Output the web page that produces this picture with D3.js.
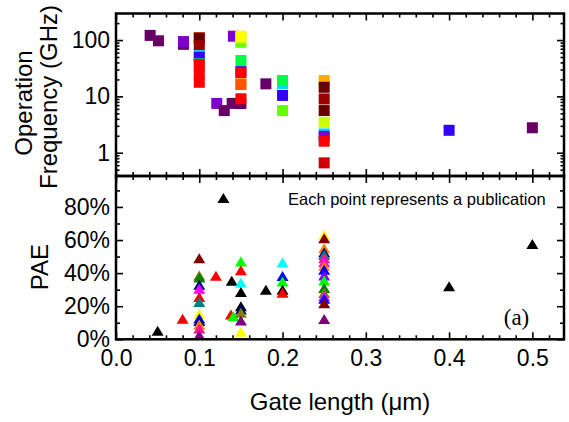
<!DOCTYPE html>
<html><head><meta charset="utf-8">
<script src="https://cdn.jsdelivr.net/npm/d3@7"></script>
<style>body{margin:0;background:#fff} svg{display:block}</style>
</head><body>
<svg id="c" width="569" height="422"></svg>
<script>
// ---------- data ----------
const freqGate = [0.041,0.051,0.081,0.081,0.1,0.1,0.1,0.1,0.1,0.1,0.1,0.1,0.1,0.121,0.130,0.1395,0.141,0.15,0.15,0.15,0.15,0.15,0.15,0.15,0.15,0.15,0.15,0.18,0.2,0.2,0.2,0.2,0.25,0.25,0.25,0.25,0.25,0.25,0.25,0.25,0.25,0.4,0.5];
const freqGHz  = [121,97,84,94,111,108,80,53,49.5,37.8,36.7,25,17.8,7.5,5.6,7.5,117,91.4,109,117,43.3,27.5,26.1,16.7,16.2,7.45,9.06,16.7,16.9,19.1,10.4,5.6,19.1,14.5,9.0,5.6,3.47,2.16,1.96,1.6,0.66,2.5,2.77];
const freqColor = ["#660066","#660066","#660066","#7f00cc","#ff5500","#660000","#990000","#00ddff","#3300ff","#00ff44","#ff0000","#ff0000","#ff0000","#7f00cc","#660066","#660066","#7f00cc","#66ff00","#ccff00","#ffff00","#00ff44","#3300ff","#ff0000","#ffaa00","#ff5500","#660066","#ff0000","#660066","#00ddff","#00ff44","#3300ff","#66ff00","#ffaa00","#660000","#990000","#660000","#ccff00","#00ddff","#7f00cc","#ff0000","#cc0000","#3300ff","#660066"];

const paeGate = [0.05,0.08,
  0.1,0.1,0.1,0.1,0.1,0.1,0.1,0.1,0.1,0.1,0.1,0.1,0.1,
  0.12,0.129,0.139,0.138,0.141,
  0.15,0.15,0.15,0.15,0.15,0.15,0.15,0.15,0.15,
  0.18,
  0.2,0.2,0.2,0.2,0.2,
  0.25,0.25,0.25,0.25,0.25,0.25,0.25,0.25,0.25,0.25,0.25,0.25,0.25,0.25,0.25,0.25,0.25,
  0.4,0.5];
const paePct = [5.2,12.4,
  49,38.5,37.4,33,30.5,25.5,22.6,15.4,12.5,11,9,6.6,2.6,
  38.4,85.4,35.4,15,14,
  47,41.8,34.4,28.6,20,18,16,11.4,4.6,
  30,
  46.4,38.2,35,30,28.2,
  63,61,55,52.5,51,49,46.5,44.5,42,38.6,35.5,31,28,26,24.5,21.8,12.2,
  32,57.6];
const paeColor = ["#000000","#ff0000",
  "#800000","#808000","#008000","#000080","#ff00ff","#ff0000","#008080","#ffff00","#0000ff","#000080","#ff8000","#ff1493","#800080",
  "#ff0000","#000000","#000000","#ff0000","#00ff00",
  "#00ff00","#ff0000","#00ffff","#000000","#000000","#000080","#808000","#800080","#ffff00",
  "#000000",
  "#00ffff","#0000ff","#00ff00","#000000","#ff0000",
  "#ffff00","#800000","#ff8000","#000080","#008080","#ff1493","#ff00ff","#ff8000","#0000ff","#8000ff","#00ff00","#008000","#808000","#ff00ff","#0000ff","#800000","#800080",
  "#000000","#000000"];

const gateTicks = [0,0.1,0.2,0.3,0.4,0.5];
const gateTickLabels = ["0.0","0.1","0.2","0.3","0.4","0.5"];
const freqTicks = [1,10,100];
const freqTickLabels = ["1","10","100"];
const paeTicks = [0,20,40,60,80];
const paeTickLabels = ["0%","20%","40%","60%","80%"];

// ---------- layout ----------
const L = 116, R = 564, T = 13.5, M = 176, B = 339.3;
const FONT = "'Liberation Sans', Arial, Helvetica, sans-serif";
const svg = d3.select("#c");

const x = d3.scaleLinear().domain([0, 0.538]).range([L, R]);
const yF = d3.scaleLog().domain([0.386, 296]).range([M, T]);
const yP = d3.scaleLinear().domain([0, 98.7]).range([B, M]);

const gateMinor = d3.range(0, 0.54, 0.02).filter(v => Math.abs(v*10 - Math.round(v*10)) > 1e-6);
const freqMinor = [];
[0.1,1,10,100].forEach(d => { for (let k=2;k<=9;k++){ const v=d*k; if (v>0.386 && v<296) freqMinor.push(v);} });
const paeMinor = [10,30,50,70,90];

function styleAxis(g){
  g.select(".domain").remove();
  g.selectAll(".tick line").attr("stroke","#000").attr("stroke-width",1.6);
  g.selectAll(".tick text").attr("font-family",FONT).attr("font-size",23).attr("fill","#000");
}

// bottom edge of bottom panel (ticks point up, labels below)
svg.append("g").attr("transform",`translate(0,${B})`)
  .call(d3.axisBottom(x).tickValues(gateMinor).tickSize(-4).tickFormat("")).call(styleAxis);
svg.append("g").attr("transform",`translate(0,${B})`)
  .call(d3.axisBottom(x).tickValues(gateTicks).tickSize(-7).tickPadding(10).tickFormat((d,i)=>gateTickLabels[i])).call(styleAxis);
// middle line: ticks up into top panel, and down into bottom panel
[-1, 1].forEach(s => {
  svg.append("g").attr("transform",`translate(0,${M})`)
    .call(d3.axisBottom(x).tickValues(gateMinor).tickSize(4*s).tickFormat("")).call(styleAxis);
  svg.append("g").attr("transform",`translate(0,${M})`)
    .call(d3.axisBottom(x).tickValues(gateTicks).tickSize(7*s).tickFormat("")).call(styleAxis);
});
// top edge
svg.append("g").attr("transform",`translate(0,${T})`)
  .call(d3.axisBottom(x).tickValues(gateMinor).tickSize(4).tickFormat("")).call(styleAxis);
svg.append("g").attr("transform",`translate(0,${T})`)
  .call(d3.axisBottom(x).tickValues(gateTicks).tickSize(7).tickFormat("")).call(styleAxis);

// top panel y axes
svg.append("g").attr("transform",`translate(${L},0)`)
  .call(d3.axisLeft(yF).tickValues(freqMinor).tickSize(-3.5).tickFormat("")).call(styleAxis);
svg.append("g").attr("transform",`translate(${L},0)`)
  .call(d3.axisLeft(yF).tickValues(freqTicks).tickSize(-7).tickPadding(6).tickFormat((d,i)=>freqTickLabels[i])).call(styleAxis);
svg.append("g").attr("transform",`translate(${R},0)`)
  .call(d3.axisRight(yF).tickValues(freqMinor).tickSize(-3.5).tickFormat("")).call(styleAxis);
svg.append("g").attr("transform",`translate(${R},0)`)
  .call(d3.axisRight(yF).tickValues(freqTicks).tickSize(-7).tickFormat("")).call(styleAxis);

// bottom panel y axes
svg.append("g").attr("transform",`translate(${L},0)`)
  .call(d3.axisLeft(yP).tickValues(paeMinor).tickSize(-4).tickFormat("")).call(styleAxis);
svg.append("g").attr("transform",`translate(${L},0)`)
  .call(d3.axisLeft(yP).tickValues(paeTicks).tickSize(-7).tickPadding(6).tickFormat((d,i)=>paeTickLabels[i])).call(styleAxis);
svg.append("g").attr("transform",`translate(${R},0)`)
  .call(d3.axisRight(yP).tickValues(paeMinor).tickSize(-4).tickFormat("")).call(styleAxis);
svg.append("g").attr("transform",`translate(${R},0)`)
  .call(d3.axisRight(yP).tickValues(paeTicks).tickSize(-7).tickFormat("")).call(styleAxis);

// ---------- marks ----------
const SQ = 11;
svg.append("g").selectAll("rect").data(freqGate).join("rect")
  .attr("x", d => x(d) - SQ/2)
  .attr("y", (d,i) => yF(freqGHz[i]) - SQ/2)
  .attr("width", SQ).attr("height", SQ)
  .attr("fill", (d,i) => freqColor[i]);

svg.append("g").selectAll("path").data(paeGate).join("path")
  .attr("d", "M0,-5L6,5L-6,5Z")
  .attr("transform", (d,i) => `translate(${x(d)},${yP(paePct[i])})`)
  .attr("fill", (d,i) => paeColor[i]);

// ---------- frames ----------
svg.append("rect").attr("x",L).attr("y",T).attr("width",R-L).attr("height",M-T)
  .attr("fill","none").attr("stroke","#000").attr("stroke-width",2.5);
svg.append("rect").attr("x",L).attr("y",M).attr("width",R-L).attr("height",B-M)
  .attr("fill","none").attr("stroke","#000").attr("stroke-width",2.5);

// ---------- text ----------
svg.append("text").attr("transform","translate(32,103) rotate(-90)")
  .attr("text-anchor","middle").attr("font-family",FONT).attr("font-size",24).text("Operation");
svg.append("text").attr("transform","translate(57,97) rotate(-90)")
  .attr("text-anchor","middle").attr("font-family",FONT).attr("font-size",24).text("Frequency (GHz)");
svg.append("text").attr("transform","translate(48,267) rotate(-90)")
  .attr("text-anchor","middle").attr("font-family",FONT).attr("font-size",24).text("PAE");
svg.append("text").attr("x",340).attr("y",410)
  .attr("text-anchor","middle").attr("font-family",FONT).attr("font-size",24).text("Gate length (\u03bcm)");
svg.append("text").attr("x",288).attr("y",204.5)
  .attr("font-family",FONT).attr("font-size",16.5).text("Each point represents a publication");
svg.append("text").attr("x",516.5).attr("y",325)
  .attr("text-anchor","middle").attr("font-family","'Liberation Serif','Times New Roman',serif").attr("font-size",23).text("(a)");
</script>
</body></html>
